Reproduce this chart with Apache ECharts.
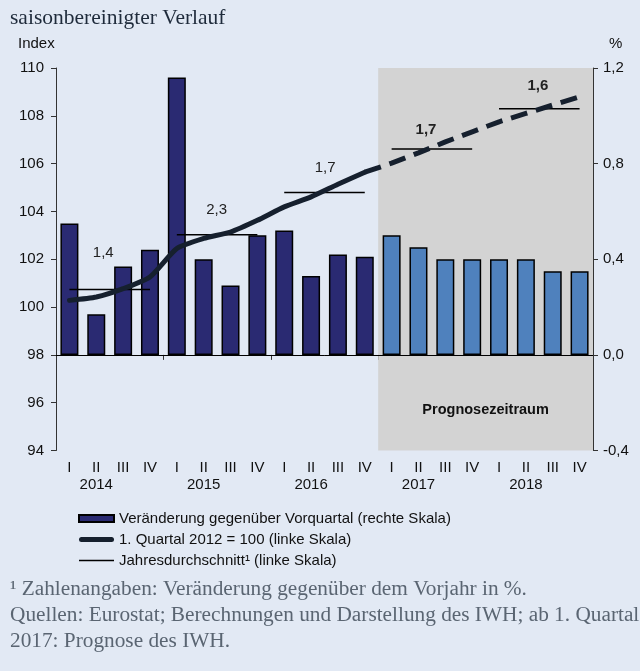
<!DOCTYPE html>
<html>
<head>
<meta charset="utf-8">
<script src="https://cdn.jsdelivr.net/npm/echarts@6/dist/echarts.min.js"></script>
<style>
html,body{margin:0;padding:0;background:#e2e9f4;}
#c{width:640px;height:671px;}
</style>
</head>
<body>
<div id="c"></div>
<script>
// ---- data ----
var years = ['2014', '2015', '2016', '2017', '2018'];
var quarters = ['I', 'II', 'III', 'IV'];
var categories = [];
years.forEach(function (y) { quarters.forEach(function (q) { categories.push(y + ' ' + q); }); });

// quarter-on-quarter change in % (right scale)
var changeValues = [0.55, 0.17, 0.37, 0.44, 1.16, 0.40, 0.29, 0.50, 0.52, 0.33, 0.42, 0.41,
                    0.50, 0.45, 0.40, 0.40, 0.40, 0.40, 0.35, 0.35];
// index, 1st quarter 2012 = 100 (left scale)
var indexValues = [100.28, 100.42, 100.77, 101.26, 102.45, 102.87, 103.14, 103.63, 104.19, 104.61,
                   105.14, 105.64, 106.02, 106.45, 106.91, 107.33, 107.75, 108.10, 108.45, 108.80];
// annual averages (left scale) and their labels (change vs previous year in %)
var annualAverage = [100.73, 103.03, 104.79, 106.61, 108.30];
var annualLabels = ['1,4', '2,3', '1,7', '1,7', '1,6'];
var forecastStartIndex = 12; // 2017 I

var leftTicks = { min: 94, max: 110, interval: 2 };
var rightTicks = { min: -0.4, max: 1.2, interval: 0.4 };

var nameBar = 'Veränderung gegenüber Vorquartal (rechte Skala)';
var nameIndex = '1. Quartal 2012 = 100 (linke Skala)';
var nameAvg = 'Jahresdurchschnitt\u00b9 (linke Skala)';
var footnotes = ['\u00b9 Zahlenangaben: Veränderung gegenüber dem Vorjahr in %.',
                 'Quellen: Eurostat; Berechnungen und Darstellung des IWH; ab 1. Quartal',
                 '2017: Prognose des IWH.'];

// ---- styles ----
var colHist = '#2a2a72';
var colFc = '#4f81bd';
var colLine = '#16202e';
var labelOffsets = [[7, -24], [13, -12], [14, -12], [7.5, -7], [12, -10]];
var footTops = [578.5, 605, 630.5];

var chart = echarts.init(document.getElementById('c'));

var barData = changeValues.map(function (v, i) {
  return { value: v, itemStyle: { color: i >= forecastStartIndex ? colFc : colHist } };
});
var solidData = indexValues.map(function (v, i) { return i <= forecastStartIndex - 1 ? v : '-'; });
var dashData = indexValues.map(function (v, i) { return i >= forecastStartIndex - 1 ? v : '-'; });

var series = [];
// dummy series carrying the forecast shading
series.push({
  type: 'bar', name: 'shade', yAxisIndex: 1, stack: 'b', z: 0,
  data: categories.map(function () { return '-'; }),
  markArea: {
    silent: true,
    itemStyle: { color: '#d3d3d3' },
    label: { show: true, position: 'insideBottom', distance: 33, color: '#111',
             fontWeight: 'bold', fontSize: 14.5, fontFamily: 'Liberation Sans' },
    data: [[{ name: 'Prognosezeitraum', xAxis: categories[forecastStartIndex] },
            { xAxis: Infinity }]]
  }
});
series.push({
  type: 'bar', name: nameBar, yAxisIndex: 1, stack: 'b', z: 2,
  barWidth: '67%',
  itemStyle: { color: colHist, borderColor: '#000', borderWidth: 1.5 },
  data: barData,
  markLine: {
    silent: true, symbol: 'none', label: { show: false },
    lineStyle: { color: '#000', width: 1, type: 'solid' },
    data: [{ yAxis: 0 }]
  }
});
annualAverage.forEach(function (a, k) {
  var d = categories.map(function (c, i) {
    if (Math.floor(i / 4) !== k) return '-';
    if (i === k * 4 + 1) {
      return { value: a, label: { show: true, formatter: annualLabels[k], position: 'top',
        offset: labelOffsets[k], fontSize: 15, color: '#222', fontFamily: 'Liberation Sans',
        fontWeight: k * 4 >= forecastStartIndex ? 'bold' : 'normal' } };
    }
    return a;
  });
  series.push({
    type: 'line', name: nameAvg, yAxisIndex: 0, z: 4, symbol: 'circle', symbolSize: 0,
    showSymbol: true,
    lineStyle: { color: '#000', width: 1.5 }, itemStyle: { color: '#000', borderWidth: 0 },
    data: d
  });
});
series.push({
  type: 'line', name: nameIndex, yAxisIndex: 0, z: 5, symbol: 'none', smooth: 0.2,
  lineStyle: { color: colLine, width: 5, cap: 'round' }, itemStyle: { color: colLine, borderWidth: 0 },
  data: solidData
});
series.push({
  type: 'line', name: nameIndex, yAxisIndex: 0, z: 5, symbol: 'none',
  lineStyle: { color: colLine, width: 5, type: [17, 9] }, itemStyle: { color: colLine, borderWidth: 0 },
  data: dashData
});

var axisLabelStyle = { color: '#111', fontSize: 15, fontFamily: 'Liberation Sans' };

chart.setOption({
  backgroundColor: '#e2e9f4',
  animation: false,
  grid: { left: 56, right: 47, top: 68, bottom: 220.5, containLabel: false },
  legend: {
    orient: 'vertical', left: 73, top: 506, itemWidth: 35, itemHeight: 7, itemGap: 6,
    textStyle: { color: '#111', fontSize: 15, fontFamily: 'Liberation Sans' },
    selectedMode: false,
    data: [
      { name: nameBar, icon: 'rect' },
      { name: nameIndex, icon: 'path://M2.5,0L32.5,0A2.5,2.5,0,0,1,32.5,5L2.5,5A2.5,2.5,0,0,1,2.5,0Z' },
      { name: nameAvg, icon: 'path://M0,0L35,0L35,1.5L0,1.5Z' }
    ]
  },
  xAxis: [{
    type: 'category', data: categories, position: 'bottom',
    axisLine: { lineStyle: { color: '#333', width: 1 } },
    axisTick: { show: true, interval: 3, length: 5, lineStyle: { color: '#333' } },
    axisLabel: Object.assign({ interval: 0, margin: 10,
      formatter: function (v) { return v.split(' ')[1]; } }, axisLabelStyle)
  }, {
    type: 'category', data: categories, position: 'bottom', offset: 17,
    axisLine: { show: false }, axisTick: { show: false },
    axisLabel: Object.assign({ interval: 0, margin: 10,
      formatter: function (v) { var p = v.split(' '); return p[1] === 'II' ? p[0] : ''; } }, axisLabelStyle)
  }],
  yAxis: [{
    type: 'value', min: leftTicks.min, max: leftTicks.max, interval: leftTicks.interval,
    position: 'left', splitLine: { show: false },
    axisLine: { show: true, lineStyle: { color: '#333' } },
    axisTick: { show: true, length: 5, lineStyle: { color: '#333' } },
    axisLabel: Object.assign({ margin: 12 }, axisLabelStyle)
  }, {
    type: 'value', min: rightTicks.min, max: rightTicks.max, interval: rightTicks.interval,
    position: 'right', splitLine: { show: false },
    axisLine: { show: true, lineStyle: { color: '#333' } },
    axisTick: { show: true, length: 5, lineStyle: { color: '#333' } },
    axisLabel: Object.assign({ margin: 10,
      formatter: function (v) { return v.toFixed(1).replace('.', ','); } }, axisLabelStyle)
  }],
  graphic: [
    { type: 'text', left: 10, top: 7, style: { text: 'saisonbereinigter Verlauf', fill: '#1f2b3b',
      font: '21.5px "Liberation Serif"' } },
    { type: 'text', left: 18, top: 36, style: { text: 'Index', fill: '#111', font: '15px "Liberation Sans"' } },
    { type: 'text', left: 609, top: 36, style: { text: '%', fill: '#111', font: '15px "Liberation Sans"' } }
  ].concat(footnotes.map(function (t, i) {
    return { type: 'text', left: 10, top: footTops[i], style: { text: t, fill: '#5a6572',
      font: '21.3px "Liberation Serif"' } };
  })),
  series: series
});
</script>
</body>
</html>
